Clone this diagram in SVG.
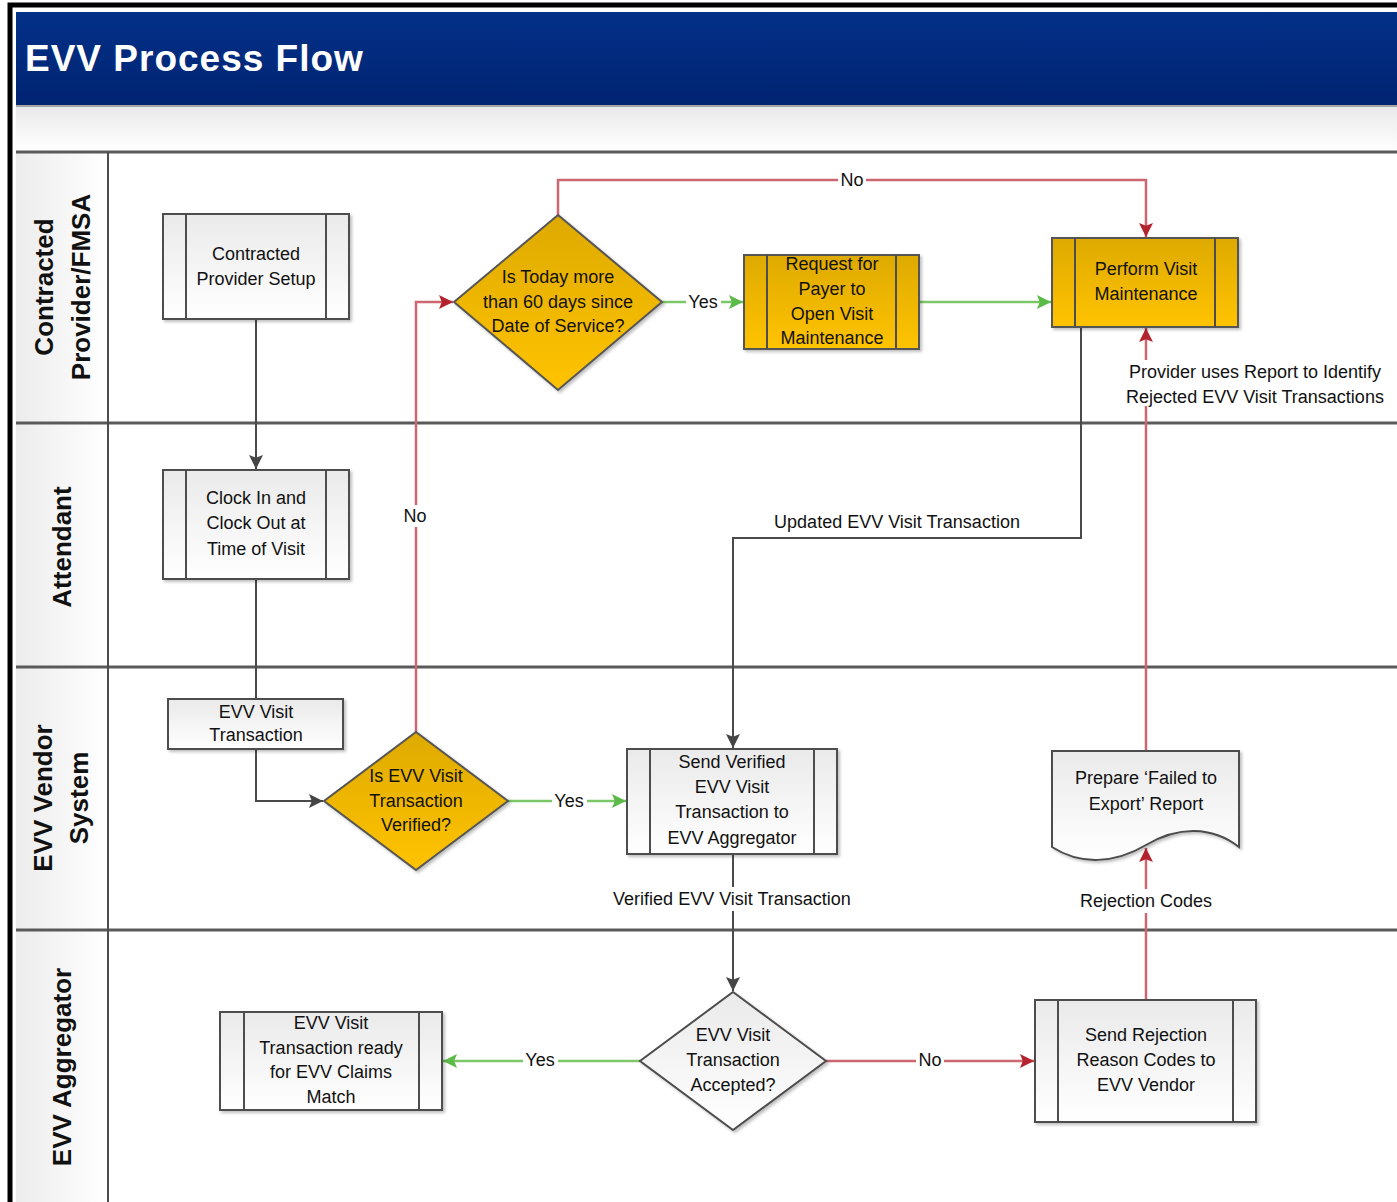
<svg xmlns="http://www.w3.org/2000/svg" width="1397" height="1202" viewBox="0 0 1397 1202">
<defs>
<style>
text{font-family:"Liberation Sans",Arial,sans-serif;fill:#111}
.nt{font-size:18px;text-anchor:middle}
.lbl{font-size:18px;text-anchor:middle}
.lb{fill:#ffffff}
.lane{font-size:26px;font-weight:bold;text-anchor:middle}
.box{fill:url(#gGray);stroke:#4d4d4d;stroke-width:2}
.ybox{fill:url(#gYel);stroke:#555;stroke-width:2}
.div{stroke:#4d4d4d;stroke-width:2}
.sep{stroke:#5a5a5a;stroke-width:3;fill:none}
.blk{stroke:#4a4a4a;stroke-width:2;fill:none}
.red{stroke:#cc6670;stroke-width:2.5;fill:none}
.grn{stroke:#7cc868;stroke-width:2.5;fill:none}
.sh{filter:url(#shadow)}
</style>
<linearGradient id="gGray" x1="0" y1="0" x2="0" y2="1"><stop offset="0" stop-color="#eaeaea"/><stop offset="1" stop-color="#ffffff"/></linearGradient>
<linearGradient id="gYel" x1="0" y1="0" x2="0" y2="1"><stop offset="0" stop-color="#deaa00"/><stop offset="1" stop-color="#ffc300"/></linearGradient>
<linearGradient id="gBlue" x1="0" y1="0" x2="0" y2="1"><stop offset="0" stop-color="#033088"/><stop offset="1" stop-color="#012472"/></linearGradient>
<linearGradient id="gBand" x1="0" y1="0" x2="0" y2="1"><stop offset="0" stop-color="#e9e9e9"/><stop offset="1" stop-color="#ffffff"/></linearGradient>
<linearGradient id="gLane" x1="0" y1="0" x2="1" y2="0"><stop offset="0" stop-color="#ececec"/><stop offset="1" stop-color="#ffffff"/></linearGradient>
<filter id="shadow" x="-10%" y="-10%" width="125%" height="130%"><feDropShadow dx="2" dy="2" stdDeviation="1.5" flood-color="#000" flood-opacity="0.25"/></filter>
<marker id="aBlk" viewBox="0 0 10 10" refX="10" refY="5" markerWidth="14" markerHeight="14" markerUnits="userSpaceOnUse" orient="auto"><path d="M0,0 L10,5 L0,10 L2,5 z" fill="#454545"/></marker>
<marker id="aRed" viewBox="0 0 10 10" refX="10" refY="5" markerWidth="14" markerHeight="14" markerUnits="userSpaceOnUse" orient="auto"><path d="M0,0 L10,5 L0,10 L2,5 z" fill="#b3232e"/></marker>
<marker id="aGrn" viewBox="0 0 10 10" refX="10" refY="5" markerWidth="14" markerHeight="14" markerUnits="userSpaceOnUse" orient="auto"><path d="M0,0 L10,5 L0,10 L2,5 z" fill="#5cba48"/></marker>
</defs>

<!-- background and frame -->
<rect x="0" y="0" width="1397" height="1202" fill="#ffffff"/>
<rect x="16" y="12" width="1381" height="93" fill="url(#gBlue)"/>
<text x="25" y="71" style="font-size:37px;font-weight:bold;fill:#ffffff;letter-spacing:1px">EVV Process Flow</text>
<rect x="16" y="106" width="1381" height="46" fill="url(#gBand)"/>
<line x1="16" y1="106" x2="1397" y2="106" stroke="#8a8a8a" stroke-width="1.5"/>
<rect x="16" y="152" width="92" height="1050" fill="url(#gLane)"/>

<g id="lanes">
<line class="sep" x1="16" y1="152" x2="1397" y2="152"/>
<line class="sep" x1="16" y1="423" x2="1397" y2="423"/>
<line class="sep" x1="16" y1="667" x2="1397" y2="667"/>
<line class="sep" x1="16" y1="930" x2="1397" y2="930"/>
<line class="div" x1="108" y1="152" x2="108" y2="1202"/>
<text class="lane" transform="translate(53,287) rotate(-90)">Contracted</text>
<text class="lane" transform="translate(90,287) rotate(-90)">Provider/FMSA</text>
<text class="lane" transform="translate(71,547) rotate(-90)">Attendant</text>
<text class="lane" transform="translate(52,798) rotate(-90)">EVV Vendor</text>
<text class="lane" transform="translate(88,798) rotate(-90)">System</text>
<text class="lane" transform="translate(71,1067) rotate(-90)">EVV Aggregator</text>
</g>
<path d="M10,1202 V5 H1397" fill="none" stroke="#000" stroke-width="5"/>

<g id="connectors">
<path class="blk" d="M256,320 V469" marker-end="url(#aBlk)"/>
<path class="blk" d="M256,580 V699"/>
<path class="blk" d="M256,750 V801 H323" marker-end="url(#aBlk)"/>
<path class="red" d="M416,732 V302 H453" marker-end="url(#aRed)"/>
<path class="grn" d="M508,801 H626" marker-end="url(#aGrn)"/>
<path class="grn" d="M662,302 H743" marker-end="url(#aGrn)"/>
<path class="red" d="M558,215 V180 H1146 V237" marker-end="url(#aRed)"/>
<path class="grn" d="M920,302 H1051" marker-end="url(#aGrn)"/>
<path class="blk" d="M1081,328 V538 H733 V748" marker-end="url(#aBlk)"/>
<path class="blk" d="M733,855 V991" marker-end="url(#aBlk)"/>
<path class="grn" d="M640,1061 H443" marker-end="url(#aGrn)"/>
<path class="red" d="M826,1061 H1034" marker-end="url(#aRed)"/>
<path class="red" d="M1146,1000 V848" marker-end="url(#aRed)"/>
<path class="red" d="M1146,751 V328" marker-end="url(#aRed)"/>
<rect class="lb" x="838" y="170" width="28" height="20"/>
<rect class="lb" x="686" y="292" width="35" height="20"/>
<rect class="lb" x="402" y="505" width="28" height="22"/>
<rect class="lb" x="552" y="791" width="35" height="20"/>
<rect class="lb" x="608" y="887" width="248" height="24"/>
<rect class="lb" x="523" y="1050" width="35" height="20"/>
<rect class="lb" x="916" y="1050" width="28" height="20"/>
<rect class="lb" x="1076" y="889" width="140" height="24"/>
<rect class="lb" x="1124" y="360" width="262" height="46"/>
<text class="lbl" x="852" y="186">No</text>
<text class="lbl" x="703" y="308">Yes</text>
<text class="lbl" x="415" y="522">No</text>
<text class="lbl" x="569" y="807">Yes</text>
<text class="lbl" x="897" y="528">Updated EVV Visit Transaction</text>
<text class="lbl" x="732" y="905">Verified EVV Visit Transaction</text>
<text class="lbl" x="540" y="1066">Yes</text>
<text class="lbl" x="930" y="1066">No</text>
<text class="lbl" x="1146" y="907">Rejection Codes</text>
<text class="lbl" x="1255" y="378">Provider uses Report to Identify</text>
<text class="lbl" x="1255" y="403">Rejected EVV Visit Transactions</text>
</g>

<g id="n-setup">
<rect class="box sh" x="163" y="214" width="186" height="105"/>
<line class="div" x1="186" y1="214" x2="186" y2="319"/><line class="div" x1="326" y1="214" x2="326" y2="319"/>
<text class="nt" x="256" y="260">Contracted</text>
<text class="nt" x="256" y="285">Provider Setup</text>
</g>

<g id="n-clock">
<rect class="box sh" x="163" y="470" width="186" height="109"/>
<line class="div" x1="186" y1="470" x2="186" y2="579"/><line class="div" x1="326" y1="470" x2="326" y2="579"/>
<text class="nt" x="256" y="504">Clock In and</text>
<text class="nt" x="256" y="529">Clock Out at</text>
<text class="nt" x="256" y="555">Time of Visit</text>
</g>

<g id="n-evvtx">
<rect class="box sh" x="168" y="699" width="175" height="50"/>
<text class="nt" x="256" y="718">EVV Visit</text>
<text class="nt" x="256" y="741">Transaction</text>
</g>

<g id="n-verified">
<polygon class="ybox sh" points="416,732 508,801 416,870 324,801"/>
<text class="nt" x="416" y="782">Is EVV Visit</text>
<text class="nt" x="416" y="807">Transaction</text>
<text class="nt" x="416" y="831">Verified?</text>
</g>

<g id="n-sendverified">
<rect class="box sh" x="627" y="749" width="210" height="105"/>
<line class="div" x1="650" y1="749" x2="650" y2="854"/><line class="div" x1="814" y1="749" x2="814" y2="854"/>
<text class="nt" x="732" y="768">Send Verified</text>
<text class="nt" x="732" y="793">EVV Visit</text>
<text class="nt" x="732" y="818">Transaction to</text>
<text class="nt" x="732" y="844">EVV Aggregator</text>
</g>

<g id="n-60days">
<polygon class="ybox sh" points="558,215 662,302 558,390 454,302"/>
<text class="nt" x="558" y="283">Is Today more</text>
<text class="nt" x="558" y="308">than 60 days since</text>
<text class="nt" x="558" y="332">Date of Service?</text>
</g>

<g id="n-request">
<rect class="ybox sh" x="744" y="255" width="175" height="94"/>
<line class="div" x1="767" y1="255" x2="767" y2="349"/><line class="div" x1="896" y1="255" x2="896" y2="349"/>
<text class="nt" x="832" y="270">Request for</text>
<text class="nt" x="832" y="295">Payer to</text>
<text class="nt" x="832" y="320">Open Visit</text>
<text class="nt" x="832" y="344">Maintenance</text>
</g>

<g id="n-perform">
<rect class="ybox sh" x="1052" y="238" width="186" height="89"/>
<line class="div" x1="1075" y1="238" x2="1075" y2="327"/><line class="div" x1="1215" y1="238" x2="1215" y2="327"/>
<text class="nt" x="1146" y="275">Perform Visit</text>
<text class="nt" x="1146" y="300">Maintenance</text>
</g>

<g id="n-report">
<path class="box sh" d="M1052,751 H1239 V847 C1212,826 1178,826 1146,845 C1114,864 1080,865 1052,847 Z"/>
<text class="nt" x="1146" y="784">Prepare ‘Failed to</text>
<text class="nt" x="1146" y="810">Export’ Report</text>
</g>

<g id="n-ready">
<rect class="box sh" x="220" y="1012" width="222" height="98"/>
<line class="div" x1="244" y1="1012" x2="244" y2="1110"/><line class="div" x1="419" y1="1012" x2="419" y2="1110"/>
<text class="nt" x="331" y="1029">EVV Visit</text>
<text class="nt" x="331" y="1054">Transaction ready</text>
<text class="nt" x="331" y="1078">for EVV Claims</text>
<text class="nt" x="331" y="1103">Match</text>
</g>

<g id="n-accepted">
<polygon class="box sh" points="733,992 826,1061 733,1130 640,1061"/>
<text class="nt" x="733" y="1041">EVV Visit</text>
<text class="nt" x="733" y="1066">Transaction</text>
<text class="nt" x="733" y="1091">Accepted?</text>
</g>

<g id="n-rejection">
<rect class="box sh" x="1035" y="1000" width="221" height="122"/>
<line class="div" x1="1058" y1="1000" x2="1058" y2="1122"/><line class="div" x1="1233" y1="1000" x2="1233" y2="1122"/>
<text class="nt" x="1146" y="1041">Send Rejection</text>
<text class="nt" x="1146" y="1066">Reason Codes to</text>
<text class="nt" x="1146" y="1091">EVV Vendor</text>
</g>
</svg>
